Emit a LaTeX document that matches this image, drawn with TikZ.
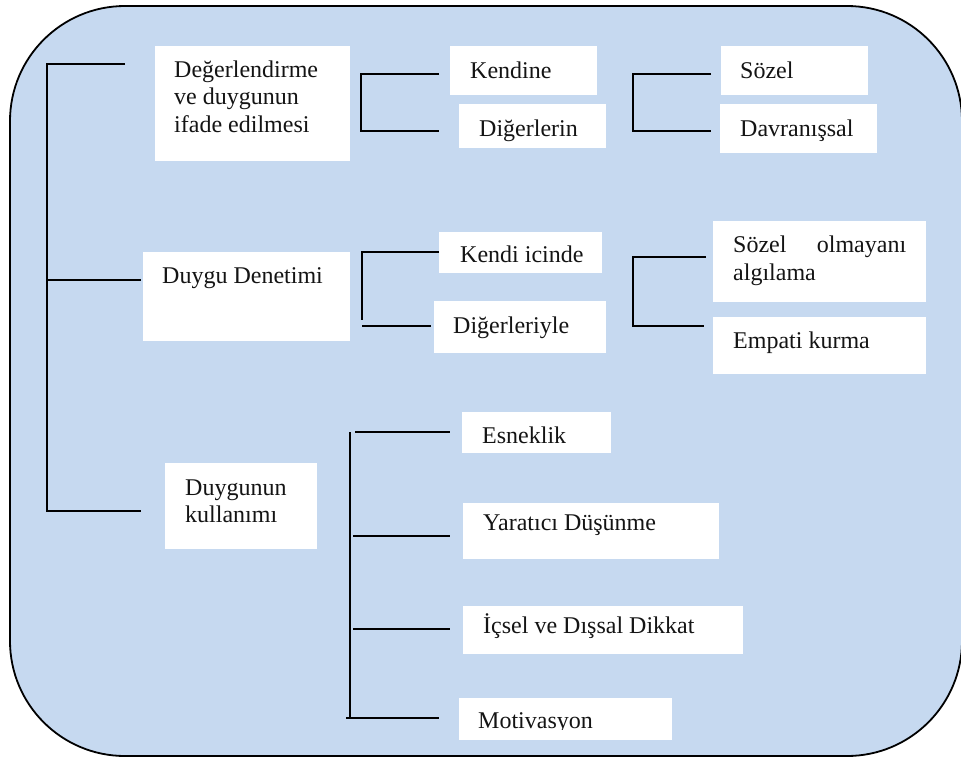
\documentclass[tikz,border=0pt]{standalone}
\usepackage{fontspec}
\setmainfont{Liberation Serif}
\usetikzlibrary{fit}
\definecolor{panelblue}{HTML}{C6D9F0}
\definecolor{inkblack}{HTML}{141414}
\tikzset{
  box/.style={fill=white, draw=none, inner sep=0pt},
  lbl/.style={anchor=base west, inner sep=0pt, text=inkblack,
              font=\fontsize{24}{28}\selectfont},
  bracket/.style={draw=black, line width=1.6pt},
}
\begin{document}
\begin{tikzpicture}[x=1pt, y=-1pt]
\useasboundingbox (0,0) rectangle (961,758);

% background panel (its right side runs to the page edge)
\begin{scope}
  \clip (0,0) rectangle (961,758);
  \draw[fill=panelblue, line width=1.8pt, rounded corners=115pt] (10,6) rectangle (962,756);
\end{scope}

% ---------- white boxes ----------
\node[box, fit={(155,46) (350,161)}] (b1) {};
\node[box, fit={(143,252) (350,341)}] (b2) {};
\node[box, fit={(165,463) (317,549)}] (b3) {};

\node[box, fit={(450,46) (597,95)}]   (kendine) {};
\node[box, fit={(459,104) (606,148)}] (digerlerin) {};
\node[box, fit={(721,46) (868,95)}]   (sozel) {};
\node[box, fit={(720,104) (877,153)}] (davranissal) {};

\node[box, fit={(439,232) (602,273)}] (kendiicinde) {};
\node[box, fit={(434,301) (606,353)}] (digerleriyle) {};
\node[box, fit={(713,221) (926,302)}] (sozelolmayan) {};
\node[box, fit={(713,317) (926,374)}] (empati) {};

\node[box, fit={(462,412) (611,453)}] (esneklik) {};
\node[box, fit={(463,503) (719,559)}] (yaratici) {};
\node[box, fit={(463,606) (743,654)}] (icsel) {};
\node[box, fit={(459,698) (672,740)}] (motivasyon) {};

% ---------- texts ----------
\node[lbl] (t1a) at (174,77)  {Değerlendirme};
\node[lbl] (t1b) at (174,104) {ve duygunun};
\node[lbl] (t1c) at (174,132) {ifade edilmesi};
\node[lbl] (t2)  at (162,283) {Duygu Denetimi};
\node[lbl] (t3a) at (185,495) {Duygunun};
\node[lbl] (t3b) at (185,522) {kullanımı};

\node[lbl] (tk)  at (470,78)  {Kendine};
\node[lbl] (td)  at (479,136) {Diğerlerin};
\node[lbl] (ts)  at (740,78)  {Sözel};
\node[lbl] (tdv) at (740,136) {Davranışsal};

\node[lbl] (tki) at (460,262) {Kendi icinde};
\node[lbl] (tdy) at (453,333) {Diğerleriyle};
\node[lbl] (tso) at (733,252) {\hbox to 173pt{Sözel\hfill olmayanı}};
\node[lbl] (tal) at (733,280) {algılama};
\node[lbl] (tem) at (733,348) {Empati kurma};

\node[lbl] (tes) at (482,443) {Esneklik};
\node[lbl] (tya) at (483,530) {Yaratıcı Düşünme};
\node[lbl] (tic) at (483,633) {İçsel ve Dışsal Dikkat};
\begin{scope}
  \clip (459,698) rectangle (672,729);
  \node[lbl] (tmo) at (478,728) {Motivasyon};
\end{scope}

% ---------- bracket points ----------
\coordinate (m0) at (47,64);   \coordinate (m1) at (125,64);
\coordinate (m2) at (47,280);  \coordinate (m3) at (141,280);
\coordinate (m4) at (47,511);  \coordinate (m5) at (141,511);

\coordinate (a0) at (361,74);  \coordinate (a1) at (439,74);
\coordinate (a2) at (361,131); \coordinate (a3) at (439,131);

\coordinate (c0) at (633,74);  \coordinate (c1) at (711,74);
\coordinate (c2) at (633,131); \coordinate (c3) at (711,131);

\coordinate (d0) at (362,252); \coordinate (d1) at (439,252);
\coordinate (d2) at (362,320);
\coordinate (d3) at (362,326); \coordinate (d4) at (431,326);

\coordinate (e0) at (633,257); \coordinate (e1) at (706,257);
\coordinate (e2) at (633,326); \coordinate (e3) at (704,326);

\coordinate (f0) at (350,432); \coordinate (f1) at (350,718);
\coordinate (g0) at (355,432); \coordinate (g1) at (450,432);
\coordinate (g2) at (353,536); \coordinate (g3) at (450,536);
\coordinate (g4) at (353,629); \coordinate (g5) at (450,629);
\coordinate (g6) at (346,718); \coordinate (g7) at (439,718);

% ---------- brackets ----------
\draw[bracket] (m1) -- (m0) -- (m4) -- (m5);
\draw[bracket] (m2) -- (m3);

\draw[bracket] (a1) -- (a0) -- (a2) -- (a3);
\draw[bracket] (c1) -- (c0) -- (c2) -- (c3);

\draw[bracket] (d1) -- (d0) -- (d2);
\draw[bracket] (d3) -- (d4);
\draw[bracket] (e1) -- (e0) -- (e2) -- (e3);

\draw[bracket] (f0) -- (f1);
\draw[bracket] (g0) -- (g1);
\draw[bracket] (g2) -- (g3);
\draw[bracket] (g4) -- (g5);
\draw[bracket] (g6) -- (g7);
\end{tikzpicture}
\end{document}
